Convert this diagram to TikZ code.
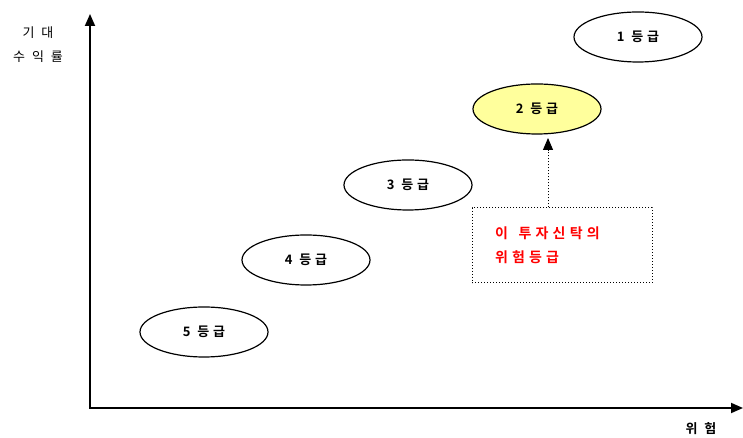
\documentclass[tikz,border=0pt]{standalone}
\usepackage{fontspec}
\usetikzlibrary{arrows.meta,shapes.geometric}
\newfontfamily\krfont[LetterSpace=30, BoldFont={Noto Sans CJK KR Bold}]{Noto Sans CJK KR}
\definecolor{paleyellow}{RGB}{255,255,156}

\begin{document}
\begin{tikzpicture}[x=1pt, y=1pt, >={Triangle[width=10pt,length=12pt]},
    grade/.style={ellipse, draw, line width=1.2pt, minimum width=128pt,
      minimum height=50pt, inner sep=0pt,
      font=\krfont\bfseries\fontsize{13}{15}\selectfont},
    notebox/.style={draw, line width=1pt, dash pattern=on 1pt off 2pt,
      minimum height=75pt, text width=134pt, inner xsep=23pt, align=left,
      text=red, font=\krfont\bfseries\fontsize{14}{24}\selectfont},
    axislabel/.style={font=\krfont\fontsize{13}{15}\selectfont}]
  \useasboundingbox (0,0) rectangle (743,438);

  \coordinate (O) at (90,30);
  \coordinate (ytop) at (90,424);
  \coordinate (xend) at (743,30);
  \draw[<->, line width=1.8pt] (ytop) -- (O) -- (xend);

  \node[axislabel] (ret1) at (38,405) {기 대};
  \node[axislabel] (ret2) at (38,381) {수 익 률};
  \node[axislabel, font=\krfont\bfseries\fontsize{13}{15}\selectfont] (risk) at (701,9) {위 험};

  \node[grade] (g1) at (638,401) {1 등급};
  \node[grade, fill=paleyellow] (g2) at (537,329) {2 등급};
  \node[grade] (g3) at (408,253) {3 등급};
  \node[grade] (g4) at (306,178) {4 등급};
  \node[grade] (g5) at (204,106) {5 등급};

  \node[notebox] (note) at (562,192.5) {이\hspace{6pt} 투자신탁의\\위험등급};
  \coordinate (tip) at (548,300);
  \draw[->, line width=1pt, dash pattern=on 1pt off 2pt] (note.north -| tip) -- (tip);
\end{tikzpicture}
\end{document}
